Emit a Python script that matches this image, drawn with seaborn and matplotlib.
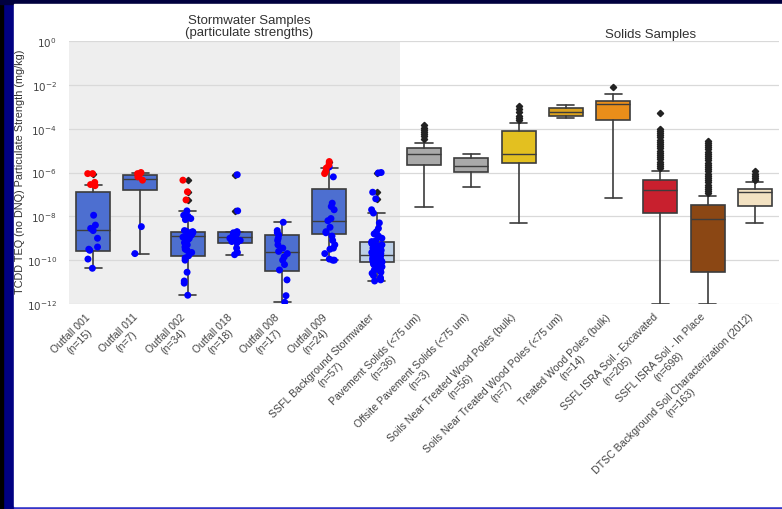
import numpy as np
import pandas as pd
import matplotlib
matplotlib.use('Agg')
import matplotlib.pyplot as plt
import matplotlib.patches as mpatches
import matplotlib.transforms as mtransforms
import seaborn as sns

np.random.seed(3)  # 固定抖动

# 类别标签
labels = [
    'Outfall 001\n(n=15)', 'Outfall 011\n(n=7)', 'Outfall 002\n(n=34)',
    'Outfall 018\n(n=18)', 'Outfall 008\n(n=17)', 'Outfall 009\n(n=24)',
    'SSFL Background Stormwater\n(n=57)', 'Pavement Solids (<75 um)\n(n=36)',
    'Offsite Pavement Solids (<75 um)\n(n=3)', 'Soils Near Treated Wood Poles (bulk)\n(n=56)',
    'Soils Near Treated Wood Poles (<75 um)\n(n=7)', 'Treated Wood Poles (bulk)\n(n=14)',
    'SSFL ISRA Soil - Excavated\n(n=205)', 'SSFL ISRA Soil - In Place\n(n=698)',
    'DTSC Background Soil Characterization (2012)\n(n=163)',
]

# 箱线图统计量 (log10 mg/kg)
q1 = [-9.58, -6.79, -9.81, -9.20, -10.50, -8.80, -10.08,
      -5.65, -5.97, -5.56, -3.42, -3.60, -7.84, -10.54, -7.52]
med = [-8.62, -6.29, -8.90, -8.95, -9.63, -8.20, -9.76,
       -5.15, -5.70, -5.15, -3.23, -2.87, -6.80, -8.12, -6.89]
q3 = [-6.89, -6.11, -8.71, -8.71, -8.85, -6.75, -9.17,
      -4.88, -5.33, -4.10, -3.05, -2.73, -6.34, -7.48, -6.75]
whis_lo = [-10.37, -9.70, -11.60, -9.76, -11.92, -10.00, -10.95,
           -7.57, -6.66, -8.30, -3.50, -7.16, -12.00, -12.00, -8.30]
whis_hi = [-6.57, -6.00, -7.75, -8.71, -8.27, -5.80, -7.85,
           -4.65, -5.15, -3.74, -2.91, -2.41, -5.93, -7.07, -6.43]

box_colors = ['#4d6fd0'] * 6 + ['#bccfe6', '#a9a9a9', '#a9a9a9', '#e3c020',
                                '#dba21e', '#e98e1a', '#c8202e', '#8b4714', '#f3e2c2']

# 离群点 (log10 mg/kg)
fliers = [
    [-6.05],
    [],
    [-6.35, -6.88, -7.25],
    [-6.10, -7.75],
    [],
    [-5.50],
    [-6.00, -6.90, -7.20],
    [-3.83, -3.95, -4.05, -4.15, -4.25, -4.35, -4.45],
    [],
    [-2.96, -3.10, -3.25, -3.40, -3.50, -3.60],
    [],
    [-2.09],
    [-3.28, -4.00, -4.10, -4.20, -4.30, -4.40, -4.50, -4.60, -4.70, -4.80, -4.90,
     -5.00, -5.10, -5.20, -5.30, -5.40, -5.50, -5.60, -5.70, -5.80],
    [-4.56, -4.65, -4.75, -4.85, -4.95, -5.05, -5.15, -5.25, -5.35, -5.45, -5.55,
     -5.65, -5.75, -5.85, -5.95, -6.05, -6.15, -6.25, -6.35, -6.45, -6.55, -6.65,
     -6.75, -6.85, -6.95],
    [-5.93, -6.05, -6.15, -6.25, -6.35],
]

# 雨水样本散点 (log10 mg/kg): 红色 / 蓝色
red_pts = {
    0: [-6.05, -6.05, -6.45, -6.55, -6.60],
    1: [-6.00, -6.05, -6.10, -6.20, -6.35],
    2: [-6.35, -6.88, -7.25],
    5: [-5.50, -5.65, -5.80, -5.95, -6.05],
}
blue_pts = {
    0: [-7.95, -8.40, -8.55, -8.65, -9.00, -9.40, -9.50, -9.55, -9.95, -10.37],
    1: [-8.47, -9.70],
    2: [-7.75, -7.95, -8.00, -8.10, -8.15, -8.65, -8.68, -8.70, -8.72, -8.75,
        -8.80, -8.85, -8.90, -8.95, -9.00, -9.05, -9.10, -9.20, -9.25, -9.30,
        -9.40, -9.50, -9.55, -9.65, -9.80, -9.90, -10.00, -10.55, -10.95, -11.05, -11.60],
    3: [-6.10, -7.75, -8.70, -8.72, -8.75, -8.80, -8.85, -8.90, -8.95, -9.00,
        -9.00, -9.05, -9.10, -9.15, -9.20, -9.45, -9.65, -9.75],
    4: [-8.27, -8.65, -8.75, -8.85, -9.00, -9.10, -9.30, -9.45, -9.60, -9.70,
        -9.85, -10.00, -10.20, -10.45, -10.90, -11.62, -11.92],
    5: [-5.75, -6.20, -7.40, -7.55, -7.70, -8.10, -8.20, -8.50, -8.70, -8.75,
        -8.90, -9.10, -9.30, -9.45, -9.50, -9.70, -9.95, -10.00, -10.00],
    6: [-6.00, -6.02, -6.90, -7.20, -7.70, -7.85, -8.30, -8.55, -8.70, -8.80,
        -8.90, -9.00, -9.10, -9.15, -9.20, -9.25, -9.30, -9.35, -9.40, -9.45,
        -9.50, -9.50, -9.55, -9.60, -9.65, -9.70, -9.72, -9.75, -9.78, -9.80,
        -9.82, -9.85, -9.88, -9.90, -9.92, -9.95, -9.97, -10.00, -10.02, -10.04,
        -10.06, -10.08, -10.10, -10.15, -10.20, -10.25, -10.30, -10.35, -10.40,
        -10.45, -10.50, -10.55, -10.60, -10.70, -10.80, -10.90, -10.95],
}

# 组装散点数据
rows = []
for idx, vals in blue_pts.items():
    for v in vals:
        rows.append((labels[idx], 10.0 ** v, 'blue'))
for idx, vals in red_pts.items():
    for v in vals:
        rows.append((labels[idx], 10.0 ** v, 'red'))
pts = pd.DataFrame(rows, columns=['group', 'value', 'flag'])

sns.set_style('white')
plt.rcParams['font.family'] = ['Liberation Sans', 'DejaVu Sans']

fig = plt.figure(figsize=(7.82, 5.10), dpi=100, facecolor='#000080')
# 外框
fig.patches.append(mpatches.Rectangle((0, 0), 1, 1, transform=fig.transFigure,
                                      color='#000082', zorder=-5))
fig.patches.append(mpatches.Rectangle((0, 0), 3 / 782, 1, transform=fig.transFigure,
                                      color='#000000', zorder=-4))
fig.patches.append(mpatches.Rectangle((0, 0.99), 1, 0.01, transform=fig.transFigure,
                                      color='#00003e', zorder=-4))
fig.patches.append(mpatches.Rectangle((14 / 782, 1 - 509 / 510), 1, 2 / 510,
                                      transform=fig.transFigure, color='#3535c8', zorder=-3))
fig.patches.append(mpatches.Rectangle((14 / 782, 1 - 507 / 510), 1, 502 / 510,
                                      transform=fig.transFigure, color='white', zorder=-2))

ax = fig.add_axes([69.4 / 782, 1 - 305 / 510, 709.2 / 782, 263 / 510])
ax.set_facecolor('none')
ax.set_yscale('log')

# 雨水样本背景
ax.axvspan(-0.5, 6.5, color='#eeeeee', zorder=0, lw=0)

stats = []
for i in range(len(labels)):
    stats.append({
        'med': 10.0 ** med[i], 'q1': 10.0 ** q1[i], 'q3': 10.0 ** q3[i],
        'whislo': 10.0 ** whis_lo[i], 'whishi': 10.0 ** whis_hi[i],
        'fliers': [10.0 ** f for f in fliers[i]],
    })

bp = ax.bxp(stats, positions=range(len(labels)), widths=0.72, patch_artist=True,
            boxprops=dict(edgecolor='#3c3c3c', linewidth=1.2),
            medianprops=dict(color='#3c3c3c', linewidth=1.0),
            whiskerprops=dict(color='#3c3c3c', linewidth=1.2),
            capprops=dict(color='#3c3c3c', linewidth=1.2),
            flierprops=dict(marker='D', markersize=3.2, markerfacecolor='#222222',
                            markeredgecolor='#222222'),
            manage_ticks=False)
for patch, c in zip(bp['boxes'], box_colors):
    patch.set_facecolor(c)
    patch.set_zorder(2)

sns.stripplot(data=pts, x='group', y='value', hue='flag', order=labels,
              palette={'blue': '#0000ff', 'red': '#ff0000'}, jitter=0.12, size=5,
              linewidth=0, legend=False, ax=ax, zorder=3)

ax.set_yscale('log')
ax.set_ylim(1e-12, 1e0)
ax.set_xlim(-0.5, len(labels) - 0.5)
yt = [1e0, 1e-2, 1e-4, 1e-6, 1e-8, 1e-10, 1e-12]
ax.set_yticks(yt)
ax.set_yticklabels([r'$10^{%d}$' % int(np.log10(t)) for t in yt], fontsize=7.5, color='#444444')
ax.yaxis.set_minor_locator(matplotlib.ticker.NullLocator())
ax.grid(True, axis='y', color='#d9d9d9', linewidth=0.9, zorder=1)
ax.set_axisbelow(True)
ax.tick_params(axis='y', length=0, pad=9)
ax.tick_params(axis='x', length=0, pad=2)
for s in ax.spines.values():
    s.set_visible(False)

ax.set_xticks(range(len(labels)))
ax.set_xticklabels(labels, rotation=45, ha='right', va='center', rotation_mode='anchor',
                   multialignment='center', fontsize=7.6, color='#444444')
for t in ax.get_xticklabels():
    t.set_transform(t.get_transform() + mtransforms.ScaledTranslation(0, -0.12, fig.dpi_scale_trans))
ax.set_xlabel('')
ax.set_ylabel('')

fig.text(20.5 / 782, 1 - 172 / 510, 'TCDD TEQ (no DNQ) Particulate Strength (mg/kg)',
         rotation=90, ha='center', va='center', fontsize=7.8, color='#333333')

trans = mtransforms.blended_transform_factory(ax.transData, ax.transAxes)
ax.text(3.3, 1.057, 'Stormwater Samples\n(particulate strengths)', transform=trans,
        ha='center', va='center', fontsize=9.5, color='#333333', linespacing=1.0)
ax.text(11.8, 1.027, 'Solids Samples', transform=trans,
        ha='center', va='center', fontsize=9.5, color='#333333')

fig.savefig('out.png', dpi=100, facecolor=fig.get_facecolor())
plt.close(fig)
